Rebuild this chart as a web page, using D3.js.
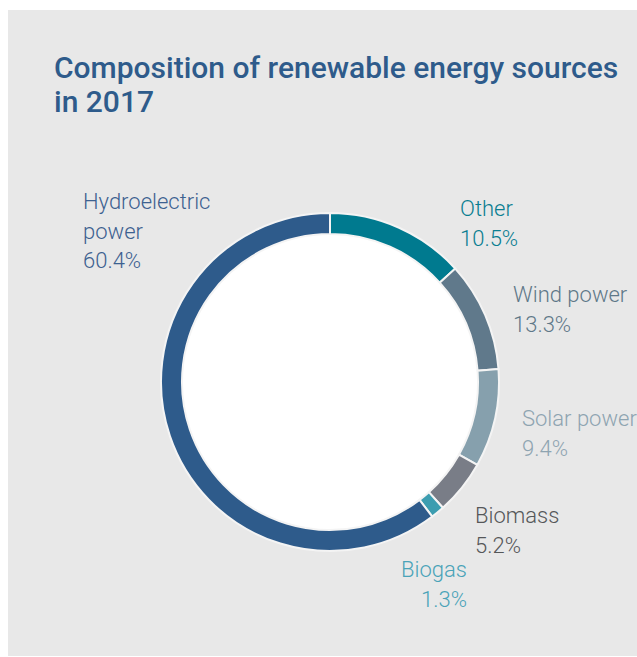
<!DOCTYPE html>
<html>
<head>
<meta charset="utf-8">
<script src="https://cdn.jsdelivr.net/npm/d3@7"></script>
<style>
  html, body { margin: 0; padding: 0; background: #fff; }
  svg { display: block; }
</style>
</head>
<body>
<div id="chart"></div>
<script>
'use strict';

// clockwise from 12 o'clock
var categories = ["Other", "Wind power", "Solar power", "Biomass", "Biogas", "Hydroelectric power"];
var labelLines = [["Other"], ["Wind power"], ["Solar power"], ["Biomass"], ["Biogas"], ["Hydroelectric", "power"]];
var shares = [10.5, 13.3, 9.4, 5.2, 1.3, 60.4];
// segment sizes as the ring is drawn in the reference (first two are drawn swapped)
var ringShares = [13.3, 10.5, 9.4, 5.2, 1.3, 60.4];
var sliceColors = ["#007a8f", "#60798b", "#86a0ad", "#797d87", "#3c9db0", "#2e5b8b"];
var labelColors = ["#0a7e91", "#5f7888", "#8ea4b1", "#555759", "#4aa3b8", "#3d6190"];
var titleLines = ["Composition of renewable energy sources", "in 2017"];

var width = 637, height = 657;

var svg = d3.select("#chart").append("svg")
    .attr("width", width)
    .attr("height", height);

svg.append("rect")
    .attr("x", 8).attr("y", 10)
    .attr("width", width - 8).attr("height", height - 11)
    .attr("fill", "#e8e8e8");

svg.append("text")
    .attr("x", 54)
    .attr("y", 78)
    .attr("fill", "#2e5b8b")
    .style("font-family", "Roboto, 'Liberation Sans', sans-serif")
    .style("font-weight", 500)
    .style("font-size", "30px")
    .selectAll("tspan")
    .data(titleLines)
    .enter().append("tspan")
      .attr("x", 54)
      .attr("dy", function(d, i) { return i ? 34 : 0; })
      .text(function(d) { return d; });

var cx = 330, cy = 382, outerR = 169, innerR = 148;

var pie = d3.pie().sort(null).value(function(d) { return d; });
var arc = d3.arc().innerRadius(innerR).outerRadius(outerR);

var g = svg.append("g")
    .attr("transform", "translate(" + cx + "," + cy + ")");

g.append("circle")
    .attr("r", innerR)
    .attr("fill", "#fff");

g.selectAll(".slice")
  .data(pie(ringShares))
  .enter().append("path")
    .attr("class", "slice")
    .attr("d", arc)
    .attr("fill", function(d, i) { return sliceColors[i]; })
    .attr("stroke", "#f4f4f4")
    .attr("stroke-width", 2);

// label anchors (baseline of first line)
var labelPos = [
  {x: 460, y: 216, anchor: "start"},
  {x: 513, y: 302, anchor: "start"},
  {x: 522, y: 426, anchor: "start"},
  {x: 475, y: 523, anchor: "start"},
  {x: 467, y: 577, anchor: "end"},
  {x: 83,  y: 209, anchor: "start"}
];

var labels = svg.selectAll(".label")
  .data(categories)
  .enter().append("text")
    .attr("class", "label")
    .attr("x", function(d, i) { return labelPos[i].x; })
    .attr("y", function(d, i) { return labelPos[i].y; })
    .attr("text-anchor", function(d, i) { return labelPos[i].anchor; })
    .attr("fill", function(d, i) { return labelColors[i]; })
    .style("font-family", "Roboto, 'Liberation Sans', sans-serif")
    .style("font-weight", 300)
    .style("font-size", "22px");

labels.selectAll("tspan")
  .data(function(d, i) {
    return labelLines[i].concat([shares[i].toFixed(1) + "%"])
      .map(function(t) { return {t: t, x: labelPos[i].x}; });
  })
  .enter().append("tspan")
    .attr("x", function(d) { return d.x; })
    .attr("dy", function(d, j) { return j ? 29.5 : 0; })
    .text(function(d) { return d.t; });
</script>
</body>
</html>
